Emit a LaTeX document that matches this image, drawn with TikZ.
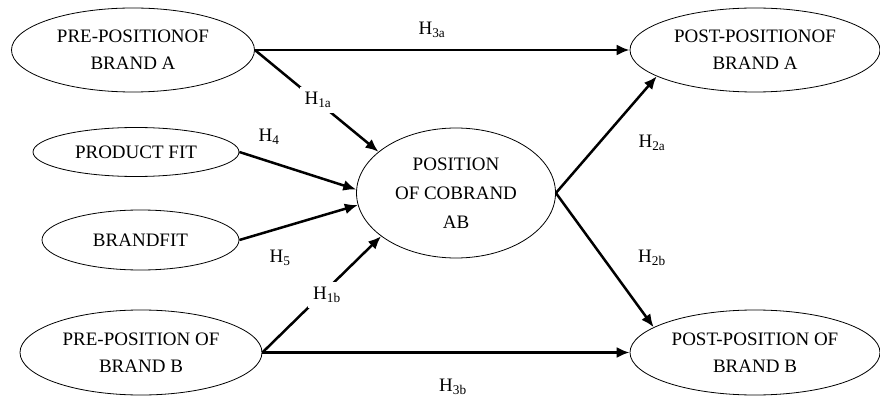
\documentclass[tikz,border=0pt]{standalone}
\usepackage{fontspec}
\setmainfont{Liberation Serif}
\usepackage{tikz}
\usetikzlibrary{shapes.geometric}
\usetikzlibrary{arrows.meta}

\begin{document}
\begin{tikzpicture}[
construct/.style={ellipse, draw=black, line width=0.8pt, inner sep=0pt, align=center, font=\fontsize{19}{27}\selectfont},
hyp/.style={inner sep=2pt, font=\fontsize{19}{23}\selectfont},
link/.style={line width=2.5pt, -{Latex[length=13pt, width=11pt]}}]
\useasboundingbox (0pt, 0pt) rectangle (880pt, -398pt);
\node (1) [construct, minimum width=243pt, minimum height=84pt] at (133.0pt, -50.0pt)  {PRE-POSITIONOF\\BRAND A};
\node (2) [construct, minimum width=206pt, minimum height=49pt] at (136.0pt, -152.0pt)  {PRODUCT FIT};
\node (3) [construct, minimum width=197pt, minimum height=60pt] at (140.5pt, -240.0pt)  {BRANDFIT};
\node (4) [construct, minimum width=242pt, minimum height=85pt] at (141.0pt, -352.5pt)  {PRE-POSITION OF\\BRAND B};
\node (5) [construct, minimum width=250pt, minimum height=84pt] at (755.0pt, -50.0pt)  {POST-POSITIONOF\\BRAND A};
\node (6) [construct, minimum width=250pt, minimum height=85pt] at (755.0pt, -352.5pt)  {POST-POSITION OF\\BRAND B};
\node (7) [construct, minimum width=199pt, minimum height=130pt, font=\fontsize{19}{29}\selectfont] at (456.0pt, -193.0pt)  {POSITION\\OF COBRAND\\AB};
\draw [link] (1.east) to (5.west);
\draw [link] (1.east) to (7.152);
\draw [link] (2.east) to (7.178);
\draw [link] (3.east) to (7.187);
\draw [link] (4.east) to (7.210);
\draw [link] (4.east) to (6.west);
\draw [link] (7.east) to (5.195);
\draw [link] (7.east) to (6.166);
\node (h3a) [hyp] at (432.0pt, -30.0pt) {H\textsubscript{3a}};
\node (h1a) [hyp, fill=white, inner sep=5pt] at (318.0pt, -100.0pt) {H\textsubscript{1a}};
\node (h4) [hyp] at (269.0pt, -137.0pt) {H\textsubscript{4}};
\node (h5) [hyp] at (280.0pt, -258.0pt) {H\textsubscript{5}};
\node (h1b) [hyp, fill=white, inner sep=5pt] at (327.0pt, -295.0pt) {H\textsubscript{1b}};
\node (h3b) [hyp] at (453.0pt, -387.0pt) {H\textsubscript{3b}};
\node (h2a) [hyp] at (652.0pt, -143.0pt) {H\textsubscript{2a}};
\node (h2b) [hyp] at (652.0pt, -258.0pt) {H\textsubscript{2b}};
\end{tikzpicture}
\end{document}
